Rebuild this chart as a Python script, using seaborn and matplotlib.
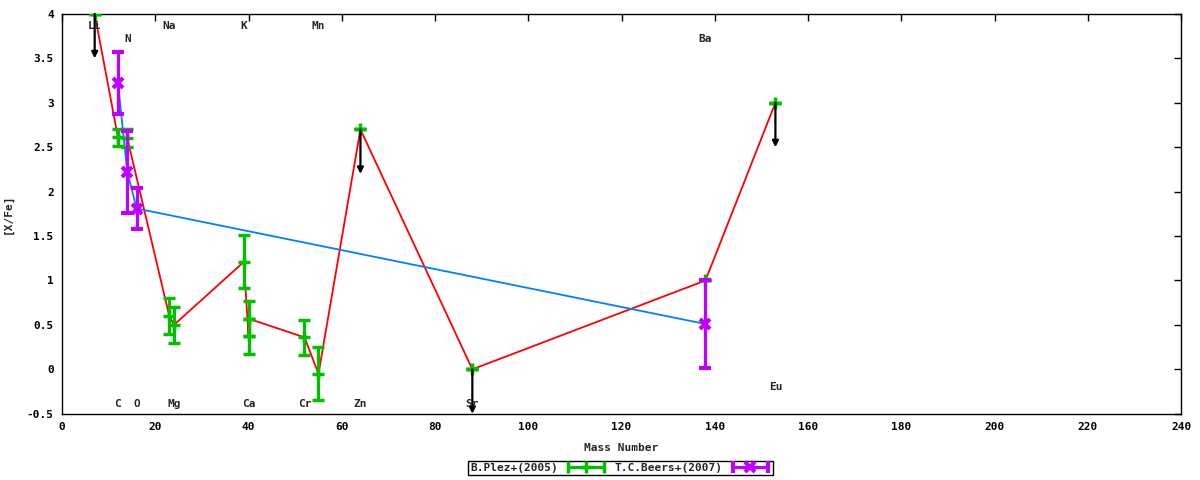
import numpy as np
import pandas as pd
import matplotlib
matplotlib.use("Agg")
import matplotlib.pyplot as plt
import seaborn as sns
from matplotlib.container import ErrorbarContainer
from matplotlib.legend_handler import HandlerErrorbar
from matplotlib.ticker import FormatStrFormatter, MultipleLocator

# B.Plez+(2005)
plez_mass = [7, 12, 14, 23, 24, 39, 40, 40, 52, 55, 64, 88, 138, 153]
plez_xfe = [4.0, 2.61, 2.6, 0.6, 0.5, 1.21, 0.37, 0.57, 0.36, -0.05, 2.7, 0.0, 1.0, 3.0]
plez_err = [0, 0.1, 0.1, 0.2, 0.2, 0.3, 0.2, 0.2, 0.2, 0.3, 0, 0, 0, 0]
plez_upper = [True, False, False, False, False, False, False, False, False, False,
              True, True, False, True]

# T.C.Beers+(2007)
beers_mass = [12, 14, 16, 138]
beers_xfe = [3.22, 2.22, 1.81, 0.51]
beers_err = [0.35, 0.46, 0.23, 0.5]

# element labels
elem_names = ["Li", "Na", "K", "Mn", "N", "Ba",
              "C", "O", "Mg", "Ca", "Cr", "Zn", "Sr", "Eu"]
elem_mass = [7, 23, 39, 55, 14, 138, 12, 16, 24, 40, 52, 64, 88, 153]
elem_row = [0, 0, 0, 0, 1, 1, 2, 2, 2, 2, 2, 2, 2, 3]
row_y = {0: 3.86, 1: 3.72, 2: -0.39, 3: -0.2}

GREEN = "#00c000"
PURPLE = "#c000ff"
RED = "#ff0000"
BLUE = "#0080ff"
FONT = "DejaVu Sans Mono"

sns.set_style("white")
plt.rcParams["font.family"] = [FONT, "DejaVu Sans"]
plt.rcParams["font.weight"] = "bold"
plt.rcParams["font.size"] = 8

plez = pd.DataFrame({"mass": plez_mass, "xfe": plez_xfe, "err": plez_err, "upper": plez_upper})
beers = pd.DataFrame({"mass": beers_mass, "xfe": beers_xfe, "err": beers_err})

fig = plt.figure(figsize=(12, 4.8), dpi=100)
ax = fig.add_axes([0.0517, 0.138, 0.9325, 0.833])

# connecting lines
sns.lineplot(data=plez, x="mass", y="xfe", sort=False, estimator=None,
             color=RED, lw=1.3, ax=ax, zorder=2)
sns.lineplot(data=beers, x="mass", y="xfe", sort=False, estimator=None,
             color=BLUE, lw=1.3, ax=ax, zorder=2)

# error bars
ax.errorbar(plez["mass"], plez["xfe"], yerr=plez["err"], fmt="+", color=GREEN,
            ms=9, mew=2.5, elinewidth=2.3, capsize=4, capthick=2.3, zorder=3)
ax.errorbar(beers["mass"], beers["xfe"], yerr=beers["err"], fmt="x", color=PURPLE,
            ms=7, mew=3, elinewidth=2.3, capsize=4, capthick=2.3, zorder=4)

# upper limits
for _, r in plez[plez["upper"]].iterrows():
    ax.annotate("", xy=(r["mass"], r["xfe"] - 0.5), xytext=(r["mass"], r["xfe"]),
                arrowprops=dict(arrowstyle="-|>", color="black", lw=1.6,
                                shrinkA=0, shrinkB=0, mutation_scale=9),
                zorder=5, annotation_clip=False)

# element names
for name, m, row in zip(elem_names, elem_mass, elem_row):
    ax.text(m, row_y[row], name, ha="center", va="center", fontsize=8,
            fontweight="bold", family=FONT, zorder=6)

ax.set_xlim(0, 240)
ax.set_ylim(-0.5, 4)
ax.xaxis.set_major_locator(MultipleLocator(20))
ax.yaxis.set_major_locator(MultipleLocator(0.5))
ax.yaxis.set_major_formatter(FormatStrFormatter("%g"))
ax.tick_params(direction="in", length=5, width=1, top=True, right=True,
               labelsize=8, colors="black", pad=6)
for lbl in ax.get_xticklabels() + ax.get_yticklabels():
    lbl.set_fontweight("bold")
for s in ax.spines.values():
    s.set_color("black")
    s.set_linewidth(1)

ax.set_xlabel("Mass Number", fontsize=8, fontweight="bold", labelpad=8)
ax.set_ylabel("[X/Fe]", fontsize=8, fontweight="bold", labelpad=10)

# legend, gnuplot style: text first, sample after
h1 = ax.errorbar([np.nan], [np.nan], xerr=[1], fmt="+", color=GREEN, ms=9, mew=2.5,
                 elinewidth=2.3, capsize=4, capthick=2.3)
h2 = ax.errorbar([np.nan], [np.nan], xerr=[1], fmt="x", color=PURPLE, ms=7, mew=3,
                 elinewidth=2.3, capsize=4, capthick=2.3)
leg = fig.legend(handles=[h1, h2], labels=["B.Plez+(2005)", "T.C.Beers+(2007)"],
                 loc="center", bbox_to_anchor=(0.517, 0.025), ncol=2, markerfirst=False,
                 frameon=True, fancybox=False, edgecolor="black", framealpha=1,
                 numpoints=1, handlelength=3.6, handletextpad=0.7, columnspacing=0.8,
                 borderpad=0.2, borderaxespad=0, fontsize=8,
                 handler_map={ErrorbarContainer: HandlerErrorbar(xerr_size=1.6)})
leg.get_frame().set_linewidth(1)
for t in leg.get_texts():
    t.set_fontweight("bold")

fig.savefig("out.png", dpi=100)
